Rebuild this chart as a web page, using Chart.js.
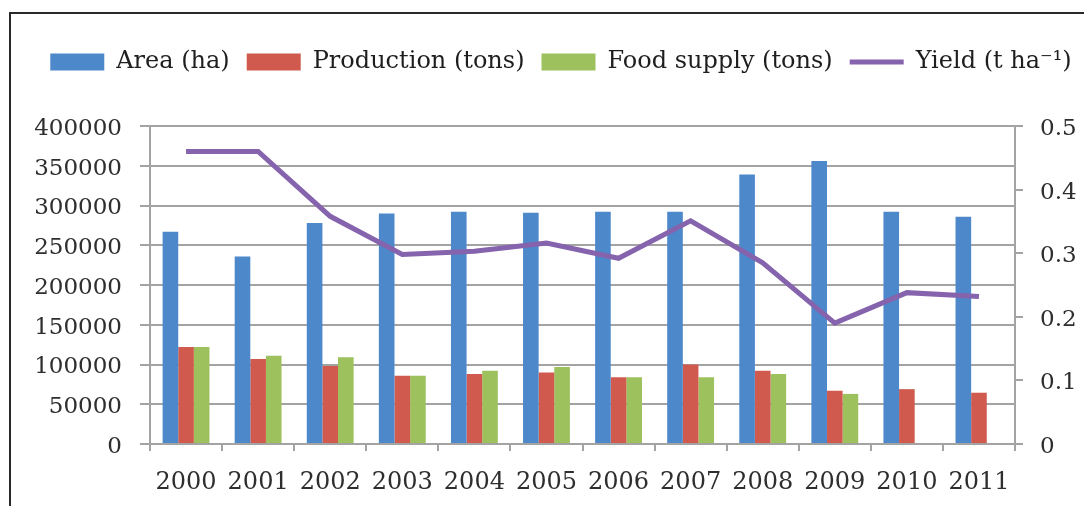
<!DOCTYPE html>
<html>
<head>
<meta charset="utf-8">
<title>Area, production, food supply and yield 2000-2011</title>
<script src="https://cdn.jsdelivr.net/npm/chart.js@4/dist/chart.umd.min.js"></script>
<style>
  html, body { margin: 0; padding: 0; background: #fff; overflow: hidden; }
  #wrap { position: relative; width: 1084px; height: 506px; }
  #frame {
    position: absolute; left: 9px; top: 12px; width: 1200px; height: 600px;
    border-left: 2px solid #2a2a2a; border-top: 2px solid #2a2a2a;
    pointer-events: none;
  }
</style>
</head>
<body>
<div id="wrap">
  <canvas id="crop_chart"></canvas>
  <div id="frame"></div>
</div>
<script>
var years = ['2000', '2001', '2002', '2003', '2004', '2005', '2006', '2007', '2008', '2009', '2010', '2011'];
var areaHa = [267000, 236000, 278000, 290000, 292000, 291000, 292000, 292000, 339000, 356000, 292000, 286000];
var productionTons = [122000, 107000, 98000, 86000, 88000, 90000, 84000, 100000, 92000, 67000, 69000, 64500];
var foodSupplyTons = [122000, 111000, 109000, 86000, 92000, 97000, 84000, 84000, 88000, 63000, null, null];
var yieldTHa = [0.46, 0.46, 0.358, 0.298, 0.303, 0.316, 0.292, 0.351, 0.285, 0.19, 0.238, 0.232];

var gridColor = '#a3a3a3';
var textColor = '#2e2e2e';
var serif = '"DejaVu Serif", serif';

// legend box gets a fixed height so the plot starts lower, and sits a bit right of centre
var legendPlacement = {
    id: 'legendPlacement',
    beforeInit: function (chart) {
        var legend = chart.legend;
        var fit = legend.fit;
        legend.fit = function () {
            fit.call(legend);
            legend.height = 93;
        };
    },
    afterLayout: function (chart) {
        chart.legend.left += 19;
        chart.legend.right += 19;
    }
};

function drawCropChart() {
    var element = document.getElementById('crop_chart');
    if (!element) {
        return;
    }

    var data = {
        labels: years,
        datasets: [
            {
                type: 'bar',
                label: 'Area (ha)',
                data: areaHa,
                backgroundColor: '#4d88cb',
                borderWidth: 0,
                yAxisID: 'y',
                order: 1
            },
            {
                type: 'bar',
                label: 'Production (tons)',
                data: productionTons,
                backgroundColor: '#d05a4e',
                borderWidth: 0,
                yAxisID: 'y',
                order: 1
            },
            {
                type: 'bar',
                label: 'Food supply (tons)',
                data: foodSupplyTons,
                backgroundColor: '#9dc15c',
                borderWidth: 0,
                yAxisID: 'y',
                order: 1
            },
            {
                type: 'line',
                label: 'Yield (t ha\u207B\u00B9)',
                data: yieldTHa,
                borderColor: '#8563ad',
                backgroundColor: '#8563ad',
                borderWidth: 5,
                pointRadius: 0,
                tension: 0,
                yAxisID: 'y1',
                order: 0
            }
        ]
    };

    var config = {
        data: data,
        plugins: [legendPlacement],
        options: {
            responsive: true,
            maintainAspectRatio: false,
            animation: false,
            layout: {
                padding: { top: 33, left: 0, right: 0, bottom: 0 }
            },
            datasets: {
                bar: {
                    categoryPercentage: 0.65,
                    barPercentage: 1.0
                }
            },
            plugins: {
                tooltip: { enabled: false },
                legend: {
                    display: true,
                    position: 'top',
                    labels: {
                        usePointStyle: true,
                        pointStyleWidth: 54,
                        boxHeight: 17,
                        padding: 17,
                        color: '#1e1e1e',
                        font: { family: serif, size: 24 },
                        sort: function (a, b) {
                            return a.datasetIndex - b.datasetIndex;
                        },
                        generateLabels: function (chart) {
                            var items = Chart.defaults.plugins.legend.labels.generateLabels(chart);
                            items.forEach(function (item) {
                                item.pointStyle = item.datasetIndex === 3 ? 'line' : 'rect';
                            });
                            return items;
                        }
                    }
                }
            },
            scales: {
                x: {
                    offset: true,
                    grid: {
                        display: true,
                        offset: true,
                        drawOnChartArea: false,
                        drawTicks: true,
                        tickLength: 7,
                        color: gridColor,
                        lineWidth: 2
                    },
                    border: { color: gridColor, width: 2 },
                    ticks: {
                        color: textColor,
                        padding: 17,
                        maxRotation: 0,
                        font: { family: serif, size: 24 }
                    },
                    afterFit: function (scale) {
                        scale.height = 62;
                    }
                },
                y: {
                    position: 'left',
                    min: 0,
                    max: 400000,
                    grid: {
                        color: gridColor,
                        lineWidth: 2,
                        tickLength: 10
                    },
                    border: { color: gridColor, width: 2 },
                    ticks: {
                        stepSize: 50000,
                        color: textColor,
                        padding: 18,
                        labelOffset: 3,
                        font: { family: serif, size: 23 },
                        callback: function (val) {
                            return String(val);
                        }
                    },
                    afterFit: function (scale) {
                        scale.width = 150;
                    }
                },
                y1: {
                    position: 'right',
                    min: 0,
                    max: 0.5,
                    grid: {
                        drawOnChartArea: false,
                        color: gridColor,
                        lineWidth: 2,
                        tickLength: 8
                    },
                    border: { color: gridColor, width: 2 },
                    ticks: {
                        stepSize: 0.1,
                        color: textColor,
                        padding: 17,
                        labelOffset: 3,
                        font: { family: serif, size: 23 },
                        callback: function (val) {
                            return String(Math.round(val * 10) / 10);
                        }
                    },
                    afterFit: function (scale) {
                        scale.width = 69;
                    }
                }
            }
        }
    };

    new Chart(element, config);
}

drawCropChart();
</script>
</body>
</html>
